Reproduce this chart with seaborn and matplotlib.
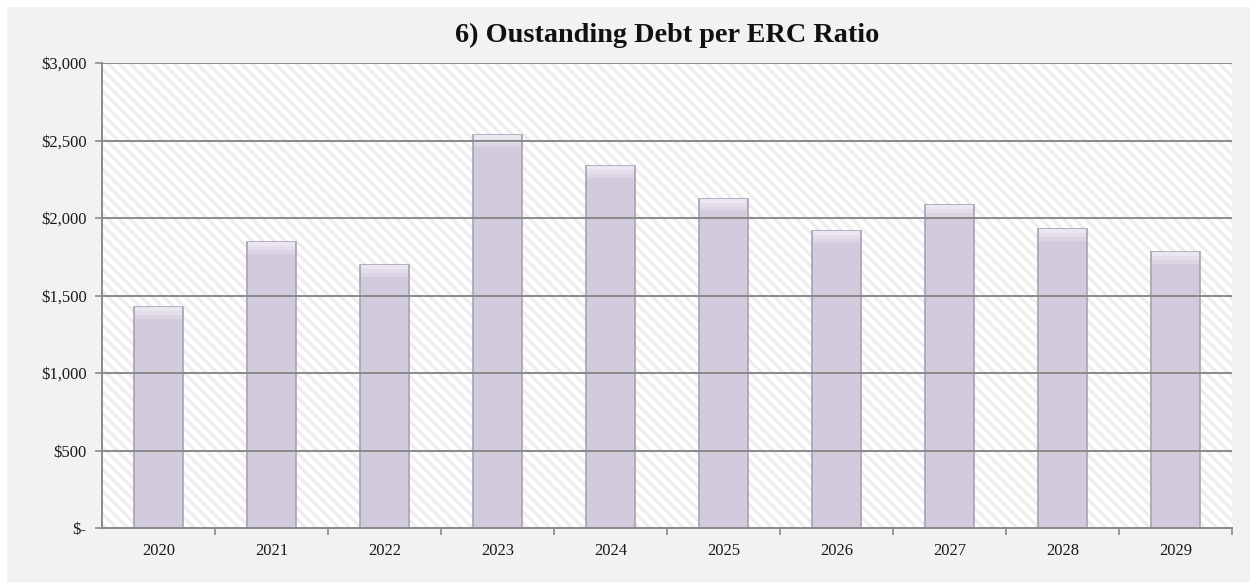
import matplotlib
matplotlib.use("Agg")
import matplotlib.pyplot as plt
from matplotlib.patches import Rectangle
from matplotlib.ticker import FuncFormatter, MultipleLocator, FixedLocator
import seaborn as sns
import pandas as pd

years = ["2020", "2021", "2022", "2023", "2024", "2025", "2026", "2027", "2028", "2029"]
debt_per_erc = [1426, 1845, 1697, 2535, 2335, 2123, 1916, 2084, 1929, 1781]
title = "6) Oustanding Debt per ERC Ratio"

sns.set_theme(style="white")
plt.rcParams["font.family"] = ["Liberation Serif", "DejaVu Serif"]
plt.rcParams["hatch.linewidth"] = 2.4

df = pd.DataFrame({"year": years, "value": debt_per_erc})

fig = plt.figure(figsize=(12.5, 5.82), dpi=100, facecolor="white")
# grey panel behind the chart
fig.add_artist(Rectangle((7 / 1250, 0), 1 - 7 / 1250, 1 - 7 / 582,
                         transform=fig.transFigure, facecolor="#f2f2f2",
                         edgecolor="none", zorder=-10))

ax = fig.add_axes([102 / 1250, 1 - 528 / 582, 1130 / 1250, 465 / 582])
ax.set_facecolor("white")
# diagonal stripe texture of the plot area
ax.add_patch(Rectangle((0, 0), 1, 1, transform=ax.transAxes, facecolor="white",
                       edgecolor="#eeeeee", linewidth=0, hatch="\\\\\\", zorder=0))

sns.barplot(data=df, x="year", y="value", ax=ax, color="#d2cbdd", width=0.43,
            edgecolor="#a9a1b3", linewidth=1.2, saturation=1, zorder=2)

# lighter bevel cap at the top of each bar
for p in list(ax.patches):
    if p.get_height() > 0 and p.get_width() < 1:
        x0, w, h = p.get_x(), p.get_width(), p.get_height()
        for k, c in enumerate(["#ebe7f0", "#e3deea", "#dbd5e4"]):
            ax.add_patch(Rectangle((x0 + 0.004, h - 25 * (k + 1)), w - 0.008, 25,
                                   facecolor=c, edgecolor="none", zorder=2.5))

ax.set_ylim(0, 3000)
ax.set_xlim(-0.5, len(years) - 0.5)
ax.yaxis.set_major_locator(MultipleLocator(500))
ax.yaxis.set_major_formatter(FuncFormatter(lambda v, _: "$-" if v == 0 else f"${v:,.0f}"))
ax.grid(axis="y", color="#8a8a8a", linewidth=1.4)
ax.set_axisbelow(False)
for gl in ax.get_ygridlines():
    gl.set_zorder(3)

ax.set_xlabel("")
ax.set_ylabel("")
for side in ["top", "right"]:
    ax.spines[side].set_visible(False)
for side in ["left", "bottom"]:
    ax.spines[side].set_color("#8a8a8a")
    ax.spines[side].set_linewidth(1.4)
    ax.spines[side].set_zorder(4)

ax.xaxis.set_minor_locator(FixedLocator([i + 0.5 for i in range(len(years))]))
ax.tick_params(axis="x", which="major", length=0, labelsize=12, colors="#1a1a1a", pad=11)
ax.tick_params(axis="x", which="minor", length=5, width=1.2, color="#8a8a8a", direction="out", bottom=True)
ax.tick_params(axis="y", which="major", length=5, width=1.2, color="#8a8a8a", direction="out",
               labelsize=12, labelcolor="#1a1a1a", pad=6, left=True)

fig.text((102 + 565) / 1250, 1 - 35 / 582, title, ha="center", va="center",
         fontsize=20.3, fontweight="bold", color="#111111")

fig.savefig("out.png", dpi=100, facecolor="white")
